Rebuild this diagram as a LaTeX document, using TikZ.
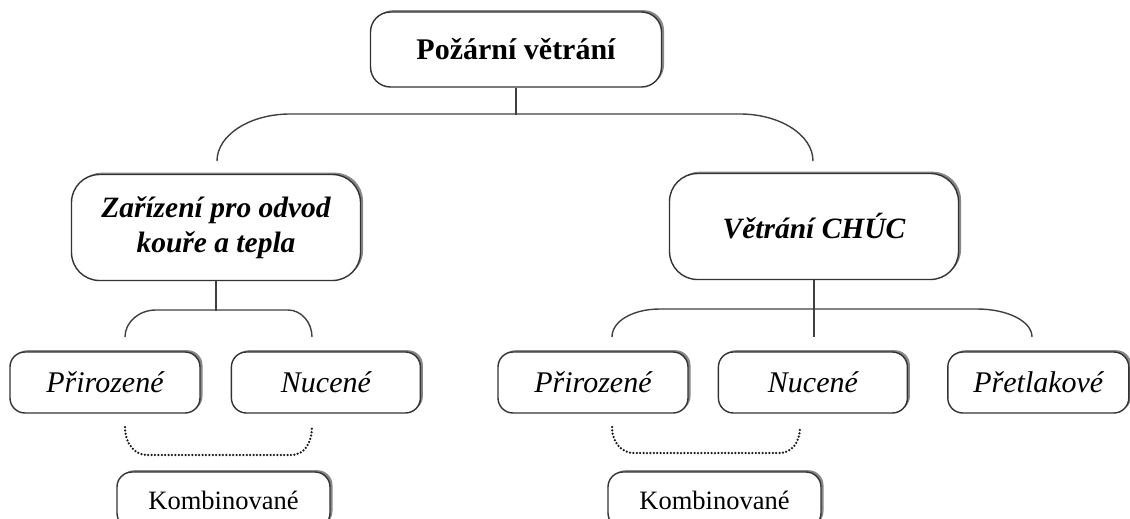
\documentclass[tikz,border=0pt]{standalone}
\usepackage{fontspec}
\setmainfont{Liberation Serif}
\usepackage{tikz}
\usetikzlibrary{positioning, calc, shadows}
\tikzset{
  boxbase/.style={draw=black!80, line width=1.4pt, fill=white, align=center, inner sep=0pt,
    drop shadow={shadow xshift=2.5pt, shadow yshift=1.8pt, fill=black!55, opacity=0.85}},
  mainbox/.style={boxbase, rounded corners=20pt, minimum width=291pt, minimum height=75pt, font=\fontsize{30}{34}\selectfont\bfseries},
  groupbox/.style={boxbase, rounded corners=28pt, minimum width=289pt, minimum height=106pt, font=\fontsize{29.5}{35}\selectfont\bfseries\itshape},
  kindbox/.style={boxbase, rounded corners=15pt, minimum height=61pt, font=\fontsize{30}{34}\selectfont\itshape},
  combobox/.style={boxbase, rounded corners=15pt, minimum width=213pt, minimum height=56pt, font=\fontsize{26.5}{30}\selectfont},
  link/.style={draw=black!75, line width=1.4pt},
  dotlink/.style={draw=black!90, line width=2.5pt, line cap=round, dash pattern=on 0pt off 3.4pt}
}
\begin{document}
\begin{tikzpicture}[x=1pt, y=-1pt]
    \useasboundingbox (0,0) rectangle (1130,519);
    \node[mainbox] (fire) at (516,49.5) {Požární větrání};
    \node[groupbox] (smoke) at (216,227.5) {Zařízení pro odvod\\kouře a tepla};
    \node[groupbox] (chuc) at (814,226.5) {Větrání CHÚC};

    \node[kindbox, minimum width=190pt] (lnat) at (105,382.5) {Přirozené};
    \node[kindbox, minimum width=189pt, right=30pt of lnat] (lforce) {Nucené};
    \node[kindbox, minimum width=190pt] (rnat) at (593,382.5) {Přirozené};
    \node[kindbox, minimum width=189pt, right=29pt of rnat] (rforce) {Nucené};
    \node[kindbox, minimum width=181pt, right=39pt of rforce] (press) {Přetlakové};

    \node[combobox] (lcomb) at (223.5,500) {Kombinované};
    \node[combobox] (rcomb) at (714.5,500) {Kombinované};

    \coordinate (topL) at (217,161);
    \coordinate (topR) at (813,161);
    \coordinate (lL) at (125,337);
    \coordinate (lR) at (312,337);
    \coordinate (rL) at (612,337);
    \coordinate (rR) at (1032,337);
    \coordinate (dlL) at (125,427);
    \coordinate (dlR) at (312,427);
    \coordinate (drL) at (612,427);
    \coordinate (drR) at (800,427);

    \draw[link] (fire.south) -- ++(0,27);
    \draw[link] (topL) .. controls +(0,-26) and +(-40,0) .. ($(topL)+(73,-47)$) -- ($(topR)+(-73,-47)$) .. controls +(40,0) and +(0,-26) .. (topR);

    \draw[link] (smoke.south) -- ++(0,30);
    \draw[link] (lL) .. controls +(0,-15) and +(-17,0) .. ($(lL)+(31,-27)$) -- ($(lR)+(-24,-27)$) .. controls +(13,0) and +(0,-15) .. (lR);

    \draw[link] (chuc.south) -- ++(0,57);
    \draw[link] (rL) .. controls +(0,-16) and +(-27,0) .. ($(rL)+(48,-28)$) -- ($(rR)+(-55,-28)$) .. controls +(30,0) and +(0,-16) .. (rR);

    \draw[dotlink] (dlL) .. controls +(0,17) and +(-12,0) .. ($(dlL)+(22,28)$) -- ($(dlR)+(-20,28)$) .. controls +(11,0) and +(0,17) .. (dlR);
    \draw[dotlink] (drL) .. controls +(0,16) and +(-12,0) .. ($(drL)+(22,26)$) -- ($(drR)+(-20,26)$) .. controls +(11,0) and +(0,16) .. (drR);
\end{tikzpicture}
\end{document}
